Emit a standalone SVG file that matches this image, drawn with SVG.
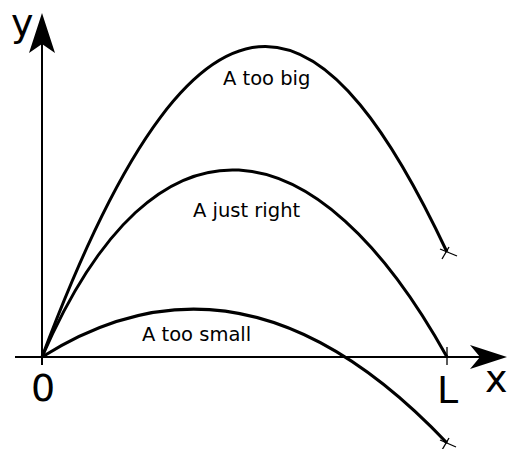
<svg xmlns="http://www.w3.org/2000/svg" width="509" height="449" viewBox="0 0 509 449">
<style>
.axis{stroke:#000;stroke-width:2;fill:none}
.curve{stroke:#000;stroke-width:3;fill:none}
.mark{stroke:#000;stroke-width:1.3;fill:none}
.head{fill:#000;stroke:none}
.lbl{font-family:"DejaVu Sans",sans-serif;font-size:19.5px;fill:#000}
.ax{font-family:"DejaVu Sans",sans-serif;font-size:38px;fill:#000}
</style>
<rect width="509" height="449" fill="#fff"/>
<g id="axes">
<line class="axis" x1="42" y1="365" x2="42" y2="40"/>
<path class="head" d="M42,13 L55,53 L42,44 L29,53 Z"/>
<line class="axis" x1="15" y1="357" x2="485" y2="357"/>
<path class="head" d="M507,357 L470,345 L480,357 L470,369 Z"/>
<text class="ax" x="11" y="36">y</text>
<text class="ax" x="485" y="392">x</text>
<text class="ax" x="31" y="401">0</text>
<text class="ax" x="437" y="403">L</text>
</g>
<g id="connectors">
<path id="big" class="curve" d="M42,357 C210,-93 335,14 447,252"/>
<path id="right" class="curve" d="M42,357 C157,92.5 317,123 447,357"/>
<path id="small" class="curve" d="M42,357 Q244.5,229 447,443"/>
</g>
<g id="marks">
<line class="mark" x1="442" y1="259" x2="449" y2="247"/>
<line class="mark" x1="440" y1="249" x2="457" y2="256"/>
<line class="mark" x1="447" y1="347" x2="447" y2="365"/>
<line class="mark" x1="442" y1="450" x2="449" y2="438"/>
<line class="mark" x1="440" y1="440" x2="456" y2="447"/>
</g>
<g id="label-big"><text class="lbl" x="223" y="85">A too big</text></g>
<g id="label-right"><text class="lbl" x="193" y="217">A just right</text></g>
<g id="label-small"><text class="lbl" x="142" y="341">A too small</text></g>
</svg>
